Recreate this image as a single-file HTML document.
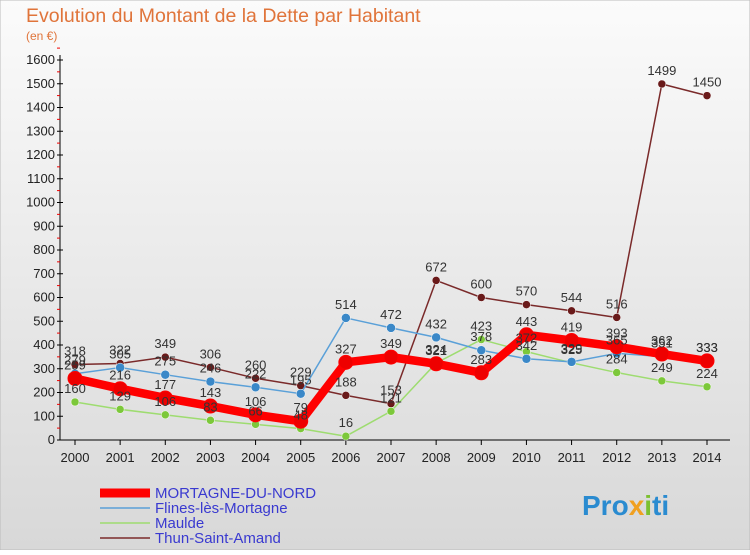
<!DOCTYPE html>
<html><head><meta charset="utf-8">
<style>
html,body{margin:0;padding:0;}
body{width:750px;height:550px;overflow:hidden;font-family:"Liberation Sans",sans-serif;}
</style></head>
<body>
<svg id="chart" width="750" height="550" xmlns="http://www.w3.org/2000/svg" font-family="Liberation Sans, sans-serif">
<defs>
<linearGradient id="bg" x1="0" y1="0" x2="0" y2="1">
<stop offset="0" stop-color="#fbfbfb"/><stop offset="1" stop-color="#d8d8d8"/>
</linearGradient>
</defs>
<rect x="0" y="0" width="750" height="550" fill="url(#bg)" stroke="#bbb"/>
<text x="26" y="22" font-size="19.5" fill="#e0743a">Evolution du Montant de la Dette par Habitant</text>
<text x="26" y="40" font-size="12" fill="#e0743a">(en €)</text>
<g id="axes"></g>
<g id="series"></g>
<g id="legend"></g>
<text x="582" y="515" font-size="28" font-weight="bold" fill="#2a8bd0">Pro<tspan fill="#f0a020">x</tspan><tspan fill="#7cc030">i</tspan>ti</text>
</svg>
<script>
const years = [2000,2001,2002,2003,2004,2005,2006,2007,2008,2009,2010,2011,2012,2013,2014];
const yTicks = [0,100,200,300,400,500,600,700,800,900,1000,1100,1200,1300,1400,1500,1600];
const mortagne = [259,216,177,143,106,79,327,349,321,283,443,419,393,362,333];
const flines = [279,305,275,246,222,195,514,472,432,378,342,329,365,351,333];
const maulde = [160,129,106,83,66,48,16,121,324,423,372,325,284,249,224];
const thun = [318,322,349,306,260,229,188,153,672,600,570,544,516,1499,1450];
const seriesNames = ["MORTAGNE-DU-NORD","Flines-lès-Mortagne","Maulde","Thun-Saint-Amand"];

const NS="http://www.w3.org/2000/svg";
const X0=75,X1=707,Y0=440,Y1=60,VMAX=1600;
const xPos=i=>X0+(X1-X0)*i/(years.length-1);
const yPos=v=>Y0-(Y0-Y1)*v/VMAX;
function mk(tag,attrs,parent){const e=document.createElementNS(NS,tag);for(const k in attrs)e.setAttribute(k,attrs[k]);parent.appendChild(e);return e;}
const axes=document.getElementById('axes');
const ya=mk('line',{x1:60,y1:Y0,x2:60,y2:Y1-5,stroke:'#000','stroke-width':1},axes);


const xa=mk('line',{x1:60,y1:Y0,x2:730,y2:Y0,stroke:'#000','stroke-width':1},axes);


yTicks.forEach(v=>{
  const y=yPos(v);
  const t=mk('line',{x1:57,y1:y,x2:63,y2:y,stroke:'#000'},axes);
  
  
  const m=mk('line',{x1:57,y1:y-11.9,x2:60,y2:y-11.9,stroke:'#e00'},axes);
  
  
  const l=mk('text',{x:55,y:y+4,'font-size':13,'text-anchor':'end',fill:'#222'},axes);
  l.textContent=v;
  
  
});
years.forEach((yr,i)=>{
  const x=xPos(i);
  const t=mk('line',{x1:x,y1:Y0,x2:x,y2:Y0+5,stroke:'#000'},axes);
  
  
  const l=mk('text',{x:x,y:Y0+22,'font-size':13,'text-anchor':'middle',fill:'#222'},axes);
  l.textContent=yr;
  
  
});
const sg=document.getElementById('series');
const defs=[
  {data:thun,color:'#7a2a2a',dot:'#6a1a1a',w:1.5,r:4,name:'thun-saint-amand'},
  {data:maulde,color:'#9edc70',dot:'#7cc83a',w:1.5,r:4,name:'maulde'},
  {data:flines,color:'#5aa0d8',dot:'#3a88c8',w:1.5,r:4.5,name:'flines-les-mortagne'},
  {data:mortagne,color:'#ff0000',dot:'#ee0000',w:8.5,r:7,name:'mortagne-du-nord'}
];
defs.forEach(s=>{
  const g=mk('g',{},sg);
  
  
  const pts=s.data.map((v,i)=>xPos(i)+','+yPos(v)).join(' ');
  const pl=mk('polyline',{points:pts,fill:'none',stroke:s.color,'stroke-width':s.w,'stroke-linejoin':'round'},g);
  
  
  s.data.forEach((v,i)=>{
    const c=mk('circle',{cx:xPos(i),cy:yPos(v),r:s.r,fill:s.dot,stroke:s.name==='mortagne-du-nord'?'#ff0000':'#fff','stroke-width':s.name==='mortagne-du-nord'?1:0.5},g);
    
    
  });
});
defs.forEach(s=>{
  s.data.forEach((v,i)=>{
    const t=mk('text',{x:xPos(i),y:yPos(v)-9,'font-size':13,'text-anchor':'middle',fill:'#333'},sg);
    t.textContent=v;
    
    
  });
});
const lg=document.getElementById('legend');
const lcol=['#ff0000','#5aa0d8','#9edc70','#7a2a2a'];
const lw=[9,1.5,1.5,1.5];
seriesNames.forEach((n,i)=>{
  const y=493+i*15;
  const g=mk('g',{},lg);
  
  
  mk('line',{x1:100,y1:y,x2:150,y2:y,stroke:lcol[i],'stroke-width':lw[i]},g);
  const t=mk('text',{x:155,y:y+5,'font-size':15,fill:'#3a3ad0'},g);
  t.textContent=n;
});
</script>
</body></html>
